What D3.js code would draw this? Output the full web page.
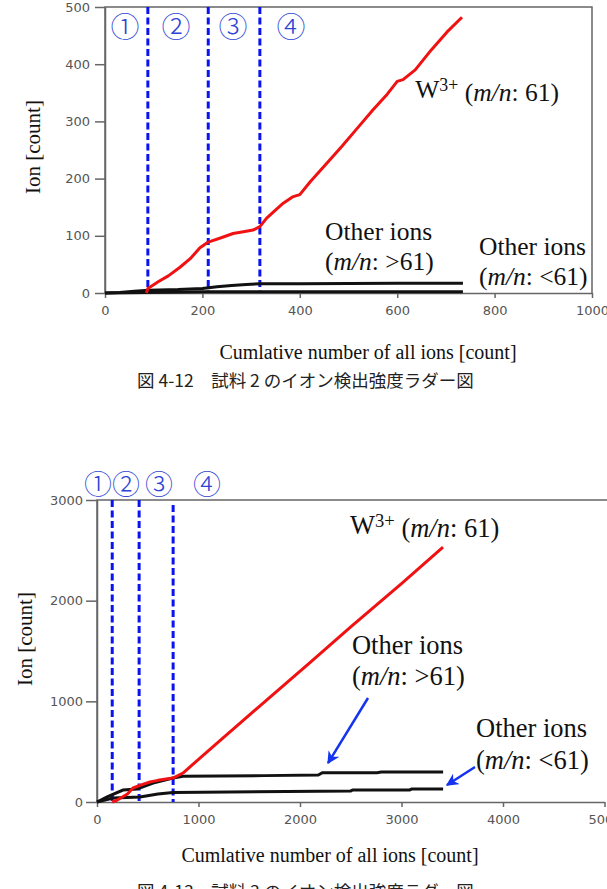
<!DOCTYPE html>
<html>
<head>
<meta charset="utf-8">
<script src="https://cdn.jsdelivr.net/npm/d3@7"></script>
<style>
  body { margin: 0; background: #fff; }
  svg { display: block; }
  .tick text { font-family: 'DejaVu Sans', sans-serif; font-size: 13px; fill: #555; }
  .serif { font-family: 'Liberation Serif', 'Times New Roman', serif; fill: #111; }
</style>
</head>
<body>
<svg id="chart"></svg>
<script>
// ---- data: sample 2 (top chart) ----
const topXTicks = [0, 200, 400, 600, 800, 1000]
const topYTicks = [0, 100, 200, 300, 400, 500]
const topW3 = [
  [85, 0], [88, 8], [110, 20], [130, 30], [154, 45], [175, 60], [195, 79], [212, 89],
  [240, 97], [263, 104], [290, 108], [304, 110], [318, 116], [332, 131], [350, 145],
  [366, 157], [385, 168], [400, 172], [421, 194], [466, 237], [487, 257], [520, 290],
  [550, 320], [580, 348], [600, 370], [612, 373], [637, 390], [670, 425], [702, 456], [733, 482]
]
const topOtherHigh = [
  [0, 0], [30, 1], [60, 3], [90, 5], [150, 6], [200, 8], [230, 11], [260, 13],
  [290, 15], [320, 16], [400, 16], [600, 17], [735, 17]
]
const topOtherLow = [[0, 0], [80, 1], [200, 2], [735, 2]]
const topBoundaries = [88, 212, 318]

// ---- data: sample 3 (bottom chart) ----
const botXTicks = [0, 1000, 2000, 3000, 4000, 5000]
const botYTicks = [0, 1000, 2000, 3000]
const botW3 = [
  [150, 0], [200, 20], [300, 80], [355, 139], [450, 175], [522, 199], [600, 215],
  [749, 238], [847, 288], [1200, 600], [1600, 950], [2098, 1384], [2500, 1740],
  [3000, 2170], [3409, 2532]
]
const botOtherHigh = [
  [0, 0], [100, 50], [256, 119], [394, 129], [552, 189], [749, 238], [847, 255],
  [1650, 262], [2180, 268], [2220, 290], [2760, 290], [2800, 298], [3410, 298]
]
const botOtherLow = [
  [0, 0], [158, 40], [424, 50], [600, 80], [749, 95], [1300, 100], [2500, 110],
  [2520, 120], [3080, 120], [3100, 128], [3410, 128]
]
const botBoundaries = [150, 415, 750]

const regionMarks = ['①', '②', '③', '④']

const W = 607, H = 889

const svg = d3.select('#chart').attr('width', W).attr('height', H)

const defs = svg.append('defs')
defs.append('marker')
  .attr('id', 'arrow')
  .attr('viewBox', '0 0 10 10')
  .attr('refX', 9).attr('refY', 5)
  .attr('markerWidth', 5).attr('markerHeight', 5)
  .attr('markerUnits', 'strokeWidth')
  .attr('orient', 'auto')
  .append('path')
  .attr('d', 'M0,0 L10,5 L0,10 L3,5 Z')
  .attr('fill', '#1433f0')

// draws one ladder chart
const drawChart = (cfg) => {
  const x = d3.scaleLinear().domain(cfg.xDomain).range(cfg.xRange)
  const y = d3.scaleLinear().domain(cfg.yDomain).range(cfg.yRange)
  const g = svg.append('g')

  // frame
  const [x0, x1] = cfg.xRange
  const [yb, yt] = cfg.yRange
  g.append('path')
    .attr('d', cfg.rightBorder
      ? `M${x0},${yb}V${yt}H${x1}V${yb}`
      : `M${x0},${yb}V${yt}H${W}`)
    .attr('fill', 'none').attr('stroke', '#666').attr('stroke-width', 1.5)

  const xAxis = g.append('g')
    .attr('transform', `translate(0,${yb})`)
    .call(d3.axisBottom(x).tickValues(cfg.xTicks).tickFormat(d3.format('d'))
      .tickSize(5).tickSizeOuter(0).tickPadding(8))
  const yAxis = g.append('g')
    .attr('transform', `translate(${x0},0)`)
    .call(d3.axisLeft(y).tickValues(cfg.yTicks).tickFormat(d3.format('d'))
      .tickSize(cfg.yTickLen).tickSizeOuter(0).tickPadding(cfg.yPad))
  ;[xAxis, yAxis].forEach((a) => {
    a.select('.domain').attr('stroke', '#666').attr('stroke-width', 1.5)
    a.selectAll('.tick line').attr('stroke', '#666').attr('stroke-width', 1.5)
  })

  // boundary lines
  g.selectAll('line.bound')
    .data(cfg.bounds)
    .join('line')
    .attr('class', 'bound')
    .attr('x1', (d) => x(d)).attr('x2', (d) => x(d))
    .attr('y1', (d, i) => yt + (cfg.boundTopOffset[i] || 0))
    .attr('y2', yb)
    .attr('stroke', '#0a14f0')
    .attr('stroke-width', 3)
    .attr('stroke-dasharray', '7,3.5')

  const line = d3.line().x((d) => x(d[0])).y((d) => y(d[1]))

  cfg.blacks.forEach((s) => {
    g.append('path').datum(s)
      .attr('d', line)
      .attr('fill', 'none').attr('stroke', '#111').attr('stroke-width', 3)
  })
  g.append('path').datum(cfg.red)
    .attr('d', line)
    .attr('fill', 'none').attr('stroke', '#f01212').attr('stroke-width', 3)
    .attr('stroke-linejoin', 'round')

  // circled region numbers
  g.selectAll('text.region')
    .data(regionMarks)
    .join('text')
    .attr('class', 'region')
    .attr('x', (d, i) => x(cfg.markX[i]))
    .attr('y', cfg.markY)
    .attr('text-anchor', 'middle')
    .attr('dominant-baseline', 'central')
    .style('font-family', "'Noto Sans CJK JP', sans-serif")
    .style('font-weight', 300)
    .style('font-size', cfg.markSize + 'px')
    .style('fill', '#2d44d6')
    .text((d) => d)

  // series labels
  const w3 = g.append('text').attr('class', 'serif')
    .attr('x', x(cfg.w3Label[0])).attr('y', y(cfg.w3Label[1]))
    .style('font-size', cfg.w3Size + 'px')
  w3.append('tspan').text('W')
  w3.append('tspan').text('3+').attr('dy', '-0.4em').style('font-size', '0.7em')
  w3.append('tspan').text(' (').attr('dy', '0.4em')
  w3.append('tspan').text('m/n').style('font-style', 'italic')
  w3.append('tspan').text(': 61)')

  cfg.otherLabels.forEach((lab) => {
    const t = g.append('text').attr('class', 'serif')
      .attr('x', x(lab.x)).attr('y', y(lab.y1))
      .style('font-size', cfg.labelSize + 'px')
    t.append('tspan').text('Other ions')
    const t2 = g.append('text').attr('class', 'serif')
      .attr('x', x(lab.x)).attr('y', y(lab.y2))
      .style('font-size', cfg.labelSize + 'px')
    t2.append('tspan').text('(')
    t2.append('tspan').text('m/n').style('font-style', 'italic')
    t2.append('tspan').text(': ' + lab.sign + '61)')
  })

  ;(cfg.arrows || []).forEach((a) => {
    g.append('line')
      .attr('x1', x(a[0])).attr('y1', y(a[1]))
      .attr('x2', x(a[2])).attr('y2', y(a[3]))
      .attr('stroke', '#1433f0').attr('stroke-width', 2.5)
      .attr('marker-end', 'url(#arrow)')
  })

  // axis titles
  g.append('text').attr('class', 'serif')
    .attr('x', cfg.xTitle[0]).attr('y', cfg.xTitle[1])
    .attr('text-anchor', 'middle')
    .style('font-size', '20px')
    .text('Cumlative number of all ions [count]')
  g.append('text').attr('class', 'serif')
    .attr('transform', `translate(${cfg.yTitle[0]},${cfg.yTitle[1]}) rotate(-90)`)
    .attr('text-anchor', 'middle')
    .style('font-size', '21px')
    .text('Ion [count]')

  g.append('text')
    .attr('x', cfg.caption[0]).attr('y', cfg.caption[1])
    .style('font-family', "'Noto Sans CJK JP', sans-serif")
    .style('font-size', '17.5px')
    .style('fill', '#222')
    .text(cfg.captionText)
}

drawChart({
  xDomain: [0, 1000], xRange: [105, 592],
  yDomain: [0, 500], yRange: [293, 7],
  xTicks: topXTicks, yTicks: topYTicks,
  yTickLen: 10, yPad: 5,
  rightBorder: true,
  bounds: topBoundaries, boundTopOffset: [0, 0, 0],
  red: topW3, blacks: [topOtherHigh, topOtherLow],
  markX: [41, 146, 263, 382], markY: 25, markSize: 29,
  labelSize: 25.5, w3Size: 25.5,
  w3Label: [637, 341],
  otherLabels: [
    { x: 452, y1: 93, y2: 40, sign: '>' },
    { x: 768, y1: 66, y2: 14, sign: '<' }
  ],
  xTitle: [368, 359], yTitle: [40, 147],
  caption: [137, 387], captionText: '図 4-12　試料 2 のイオン検出強度ラダー図'
})

drawChart({
  xDomain: [0, 5000], xRange: [97, 604.5],
  yDomain: [0, 3000], yRange: [802, 500],
  xTicks: botXTicks, yTicks: botYTicks,
  yTickLen: 11, yPad: 3,
  rightBorder: false,
  bounds: botBoundaries, boundTopOffset: [0, 0, 5],
  red: botW3, blacks: [botOtherHigh, botOtherLow],
  markX: [10, 286, 611, 1084], markY: 483, markSize: 28,
  labelSize: 26.5, w3Size: 26.5,
  w3Label: [2493, 2661],
  otherLabels: [
    { x: 2512, y1: 1470, y2: 1162, sign: '>' },
    { x: 3734, y1: 645, y2: 328, sign: '<' }
  ],
  arrows: [[2670, 1033, 2276, 387], [3724, 348, 3448, 169]],
  xTitle: [330, 862], yTitle: [32, 639],
  caption: [137, 898], captionText: '図 4-13　試料 3 のイオン検出強度ラダー図'
})
</script>
</body>
</html>
